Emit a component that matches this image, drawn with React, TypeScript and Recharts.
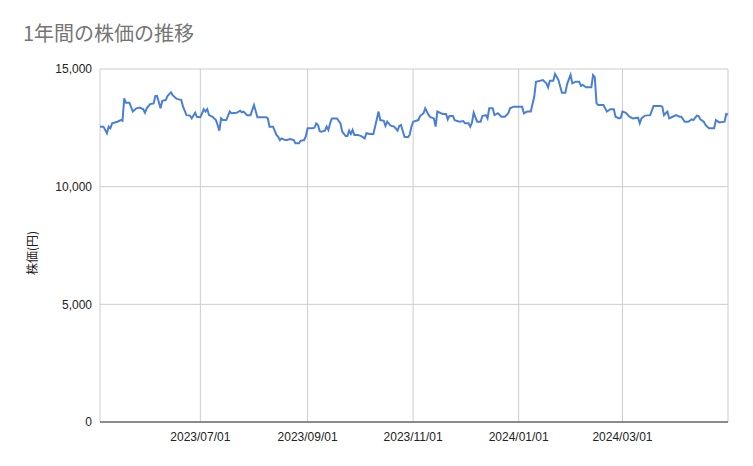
import React from "react";
import { LineChart, Line, XAxis, YAxis, CartesianGrid } from "recharts";

const chartTitle = "1年間の株価の推移";
const yAxisTitle = "株価(円)";

// trading dates
const dates = [
  "2023/05/04", "2023/05/06", "2023/05/08", "2023/05/09", "2023/05/10", "2023/05/11", "2023/05/14", "2023/05/16",
  "2023/05/17", "2023/05/18", "2023/05/19", "2023/05/21", "2023/05/23", "2023/05/25", "2023/05/27", "2023/05/29",
  "2023/05/30", "2023/05/31", "2023/06/02", "2023/06/04", "2023/06/05", "2023/06/06", "2023/06/08", "2023/06/09",
  "2023/06/11", "2023/06/12", "2023/06/14", "2023/06/15", "2023/06/17", "2023/06/18", "2023/06/20", "2023/06/21",
  "2023/06/23", "2023/06/25", "2023/06/26", "2023/06/28", "2023/06/29", "2023/07/01", "2023/07/03", "2023/07/04",
  "2023/07/05", "2023/07/06", "2023/07/08", "2023/07/10", "2023/07/11", "2023/07/12", "2023/07/13", "2023/07/14",
  "2023/07/16", "2023/07/18", "2023/07/19", "2023/07/22", "2023/07/24", "2023/07/25", "2023/07/26", "2023/07/28",
  "2023/07/30", "2023/08/01", "2023/08/03", "2023/08/08", "2023/08/09", "2023/08/10", "2023/08/12", "2023/08/14",
  "2023/08/15", "2023/08/16", "2023/08/17", "2023/08/19", "2023/08/20", "2023/08/22", "2023/08/24", "2023/08/25",
  "2023/08/27", "2023/08/28", "2023/08/30", "2023/08/31", "2023/09/01", "2023/09/04", "2023/09/05", "2023/09/06",
  "2023/09/07", "2023/09/08", "2023/09/09", "2023/09/11", "2023/09/12", "2023/09/13", "2023/09/14", "2023/09/15",
  "2023/09/18", "2023/09/20", "2023/09/21", "2023/09/23", "2023/09/24", "2023/09/25", "2023/09/26", "2023/09/27",
  "2023/09/28", "2023/09/30", "2023/10/02", "2023/10/04", "2023/10/05", "2023/10/07", "2023/10/09", "2023/10/10",
  "2023/10/12", "2023/10/13", "2023/10/15", "2023/10/16", "2023/10/17", "2023/10/19", "2023/10/21", "2023/10/23",
  "2023/10/24", "2023/10/25", "2023/10/27", "2023/10/29", "2023/10/30", "2023/10/31", "2023/11/01", "2023/11/04",
  "2023/11/05", "2023/11/07", "2023/11/08", "2023/11/10", "2023/11/11", "2023/11/13", "2023/11/14", "2023/11/15",
  "2023/11/18", "2023/11/20", "2023/11/21", "2023/11/22", "2023/11/24", "2023/11/25", "2023/11/26", "2023/11/28",
  "2023/11/30", "2023/12/01", "2023/12/03", "2023/12/04", "2023/12/05", "2023/12/06", "2023/12/08", "2023/12/10",
  "2023/12/11", "2023/12/13", "2023/12/14", "2023/12/15", "2023/12/17", "2023/12/18", "2023/12/20", "2023/12/22",
  "2023/12/24", "2023/12/26", "2023/12/27", "2023/12/29", "2024/01/03", "2024/01/04", "2024/01/06", "2024/01/08",
  "2024/01/10", "2024/01/11", "2024/01/15", "2024/01/17", "2024/01/18", "2024/01/19", "2024/01/21", "2024/01/22",
  "2024/01/24", "2024/01/26", "2024/01/28", "2024/01/29", "2024/01/31", "2024/02/01", "2024/02/03", "2024/02/05",
  "2024/02/06", "2024/02/07", "2024/02/09", "2024/02/12", "2024/02/13", "2024/02/14", "2024/02/15", "2024/02/16",
  "2024/02/19", "2024/02/20", "2024/02/21", "2024/02/23", "2024/02/25", "2024/02/26", "2024/02/28", "2024/02/29",
  "2024/03/01", "2024/03/03", "2024/03/05", "2024/03/07", "2024/03/10", "2024/03/11", "2024/03/12", "2024/03/14",
  "2024/03/17", "2024/03/19", "2024/03/21", "2024/03/23", "2024/03/24", "2024/03/25", "2024/03/26", "2024/03/27",
  "2024/03/28", "2024/03/30", "2024/04/01", "2024/04/03", "2024/04/04", "2024/04/06", "2024/04/08", "2024/04/10",
  "2024/04/11", "2024/04/13", "2024/04/14", "2024/04/15", "2024/04/17", "2024/04/18", "2024/04/19", "2024/04/20",
  "2024/04/23", "2024/04/24", "2024/04/26", "2024/04/29", "2024/04/30", "2024/05/01",
];

const prices = [
  12550, 12550, 12270, 12550, 12480, 12690, 12760, 12830,
  12800, 13750, 13570, 13570, 13190, 13330, 13360, 13290,
  13140, 13330, 13510, 13540, 13850, 13850, 13330, 13650,
  13680, 13850, 14010, 13890, 13750, 13720, 13680, 13400,
  13040, 13020, 12900, 13140, 12970, 12950, 13290, 13190,
  13290, 13040, 12970, 12830, 12620, 12380, 12900, 12830,
  12830, 13190, 13120, 13140, 13230, 13160, 13190, 13040,
  13040, 13470, 12950, 12950, 12900, 12550, 12550, 12200,
  12120, 11980, 12050, 11980, 11980, 12020, 11980, 11840,
  11840, 11950, 11980, 12150, 12480, 12480, 12510, 12690,
  12620, 12360, 12340, 12380, 12550, 12410, 12690, 12900,
  12900, 12690, 12340, 12150, 12150, 12380, 12240, 12410,
  12200, 12200, 12150, 12050, 12270, 12240, 12240, 12550,
  13190, 12830, 12800, 12580, 12760, 12590, 12550, 12380,
  12580, 12620, 12120, 12100, 12200, 12550, 12760, 12830,
  13000, 13120, 13330, 13040, 12950, 12900, 12550, 13190,
  13090, 13090, 12860, 13000, 13000, 12830, 12800, 12760,
  12790, 12690, 12690, 12550, 12720, 13140, 12760, 12760,
  13000, 13040, 12900, 13330, 13330, 13040, 13120, 12970,
  12970, 13120, 13330, 13400, 13400, 13120, 13190, 13190,
  13820, 14460, 14530, 14390, 14220, 14500, 14500, 14790,
  14530, 13990, 13990, 14360, 14750, 14390, 14460, 14460,
  14280, 14320, 14220, 14220, 14740, 14650, 13540, 13470,
  13470, 13330, 13190, 13290, 13290, 12970, 12900, 12930,
  13190, 13140, 12970, 12900, 12930, 12690, 12900, 13020,
  13040, 13430, 13430, 13430, 13400, 13040, 13120, 13190,
  12900, 12970, 13040, 12970, 12970, 12760, 12760, 12860,
  12830, 13020, 13000, 12860, 12760, 12620, 12550, 12480,
  12480, 12830, 12730, 12760, 13090, 13060,
];

const xTickDates = ["2023/07/01", "2023/09/01", "2023/11/01", "2024/01/01", "2024/03/01", "2024/05/01"];
const yTicks = [0, 5000, 10000, 15000];

const toTime = (s: string) => {
  const [y, m, d] = s.split("/").map(Number);
  return Date.UTC(y, m - 1, d);
};

const pad = (n: number) => String(n).padStart(2, "0");
const fmtDate = (t: number) => {
  const d = new Date(t);
  return `${d.getUTCFullYear()}/${pad(d.getUTCMonth() + 1)}/${pad(d.getUTCDate())}`;
};

const data = dates.map((d, i) => ({ t: toTime(d), price: prices[i] }));
const xTicks = xTickDates.map(toTime);
const lastTick = xTicks[xTicks.length - 1];

const font = '"Liberation Sans", Arial, "Noto Sans CJK JP", sans-serif';

export default function App() {
  return (
    <div style={{ position: "relative", width: 753, height: 466, background: "#fff", fontFamily: font }}>
      <style>{"body{margin:0}"}</style>
      <LineChart width={753} height={466} data={data} margin={{ top: 69, right: 25, bottom: 0, left: 0 }}>
        <CartesianGrid stroke="#cccccc" strokeWidth={1} />
        <XAxis
          dataKey="t"
          type="number"
          scale="time"
          domain={["dataMin", "dataMax"]}
          ticks={xTicks}
          interval={0}
          height={44}
          tickLine={false}
          tickMargin={4}
          axisLine={{ stroke: "#333333", strokeWidth: 1 }}
          tick={{ fill: "#222222", fontSize: 12, fontFamily: font }}
          tickFormatter={(v: number) => (v === lastTick ? "" : fmtDate(v))}
        />
        <YAxis
          domain={[0, 15000]}
          ticks={yTicks}
          width={100}
          axisLine={false}
          tickLine={false}
          tick={{ fill: "#222222", fontSize: 12, fontFamily: font }}
          tickFormatter={(v: number) => v.toLocaleString("en-US")}
        />
        <Line
          type="linear"
          dataKey="price"
          stroke="#4a7fd6"
          strokeWidth={2}
          dot={false}
          isAnimationActive={false}
        />
      </LineChart>
      <svg width={753} height={466} style={{ position: "absolute", left: 0, top: 0, pointerEvents: "none" }}>
        <text x={23} y={41} fontSize={20} fill="#757575" fontFamily='"Noto Sans CJK JP", sans-serif'>
          {chartTitle}
        </text>
        <text
          x={31}
          y={253}
          fontSize={12}
          fill="#222222"
          textAnchor="middle"
          dominantBaseline="central"
          transform="rotate(-90, 31, 253)"
          fontFamily='"Noto Sans CJK JP", sans-serif'
        >
          {yAxisTitle}
        </text>
      </svg>
    </div>
  );
}
